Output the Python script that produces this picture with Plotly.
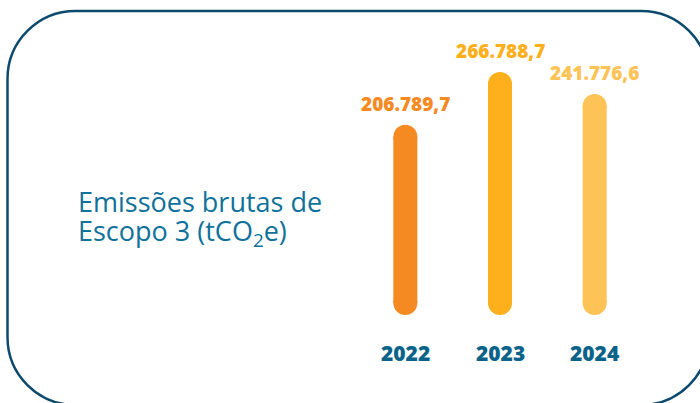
import plotly.graph_objects as go

# ---- data ----
years = ["2022", "2023", "2024"]
values = [206789.7, 266788.7, 241776.6]
value_labels = ["206.789,7", "266.788,7", "241.776,6"]
bar_colors = ["#F68A22", "#FDB01B", "#FEC356"]
title_line1 = "Emissões brutas de"
title_line2 = "Escopo 3 <span style='font-weight:400'>(tCO<sub>2</sub>e)</span>"

W, H = 700, 403
BASE = 17600          # visual start of capsules (axis baseline)
Y_RANGE = [-96166, 362309]
X_POS = [0, 1, 2]

fig = go.Figure()

for xp, v, c in zip(X_POS, values, bar_colors):
    fig.add_trace(go.Scatter(
        x=[xp, xp], y=[BASE, v], mode="lines+markers",
        line=dict(color=c, width=24),
        marker=dict(color=c, size=24, line=dict(width=0)),
        hoverinfo="skip", showlegend=False,
    ))

# value labels
for xp, v, lab, c in zip(X_POS, values, value_labels, bar_colors):
    fig.add_annotation(x=xp, y=v, xref="x", yref="y", text=lab,
                       showarrow=False, yanchor="bottom", yshift=18,
                       font=dict(family="Open Sans", size=19, color=c, weight=800))

# year labels
for xp, yr in zip(X_POS, years):
    fig.add_annotation(x=xp, y=1 - 353 / H, xref="x", yref="paper", text=yr,
                       showarrow=False, yanchor="middle",
                       font=dict(family="Open Sans", size=21, color="#0B6389", weight=800))

# title
fig.add_annotation(x=76 / W, y=1 - 202 / H, xref="paper", yref="paper", text=title_line1,
                   showarrow=False, xanchor="left", yanchor="middle",
                   font=dict(family="Open Sans", size=27, color="#10719A", weight=500))
fig.add_annotation(x=76 / W, y=1 - 232 / H, xref="paper", yref="paper", text=title_line2,
                   showarrow=False, xanchor="left", yanchor="middle",
                   font=dict(family="Open Sans", size=27, color="#10719A", weight=500))

# rounded border
def px(x, y):
    return f"{x / W:.5f},{1 - y / H:.5f}"

L, T, R, B, r = 7.5, 11, 709, 405, 68
k = 0.5523 * r
path = (
    f"M {px(L + r, T)} L {px(R - r, T)} "
    f"C {px(R - r + k, T)} {px(R, T + r - k)} {px(R, T + r)} "
    f"L {px(R, B - r)} "
    f"C {px(R, B - r + k)} {px(R - r + k, B)} {px(R - r, B)} "
    f"L {px(L + r, B)} "
    f"C {px(L + r - k, B)} {px(L, B - r + k)} {px(L, B - r)} "
    f"L {px(L, T + r)} "
    f"C {px(L, T + r - k)} {px(L + r - k, T)} {px(L + r, T)} Z"
)
fig.add_shape(type="path", path=path, xref="paper", yref="paper",
              line=dict(color="#0C4A6E", width=2.5), layer="below")

fig.update_layout(
    width=W, height=H, margin=dict(l=0, r=0, t=0, b=0),
    paper_bgcolor="white", plot_bgcolor="rgba(0,0,0,0)",
    xaxis=dict(domain=[358 / W, 642 / W], range=[-0.5, 2.5], visible=False, fixedrange=True),
    yaxis=dict(domain=[0, 1], range=Y_RANGE, visible=False, fixedrange=True),
    showlegend=False,
)

fig.write_html("out.html", config={"displayModeBar": False},
               post_script="document.body.style.margin='0';document.body.style.overflow='hidden';")
